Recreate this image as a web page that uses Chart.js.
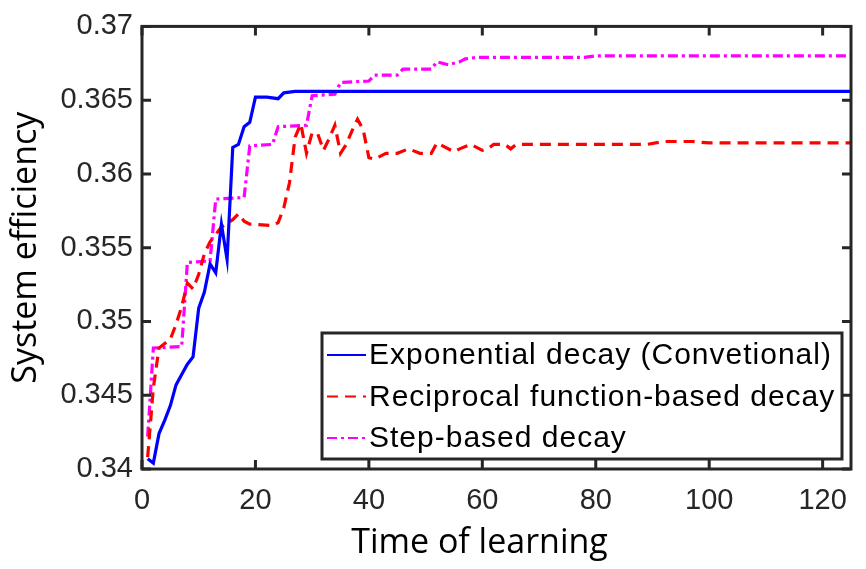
<!DOCTYPE html>
<html>
<head>
<meta charset="utf-8">
<script src="https://cdn.jsdelivr.net/npm/chart.js@4.4.1/dist/chart.umd.min.js"></script>
<style>
  html, body { margin: 0; padding: 0; background: #fff; }
  #wrap { width: 866px; height: 569px; }
</style>
</head>
<body>
<div id="wrap"><canvas id="myChart" width="866" height="569"></canvas></div>
<script>
// values
const expT = [1, 2, 3, 4, 5, 6, 7, 8, 9, 10, 11, 12, 13, 14, 15, 16, 17, 18, 19, 20, 22, 24, 25, 27, 125];
const expV = [0.3407, 0.3404, 0.3424, 0.3433, 0.3443, 0.3457, 0.3464, 0.3471, 0.3476, 0.3509, 0.3520, 0.3539, 0.3533, 0.3566, 0.3542, 0.3618, 0.3620, 0.3632, 0.3635, 0.3652, 0.3652, 0.3651, 0.3655, 0.3656, 0.3656];

const recT = [1, 2, 3, 4, 5, 6, 7, 8, 9, 10, 11, 12, 13, 14, 16, 17, 18, 19, 23, 24, 25, 26, 27, 28, 29, 30, 31, 32, 33, 34, 35, 36, 37, 38, 39, 40, 41, 43, 45, 47, 49, 51, 52, 53, 55, 56, 58, 60, 61, 62, 64, 65, 66, 80, 89, 92, 97, 100, 125];
const recV = [0.3408, 0.3455, 0.3482, 0.3485, 0.3488, 0.3498, 0.3510, 0.3526, 0.3522, 0.3532, 0.3546, 0.3554, 0.3559, 0.3564, 0.3569, 0.3573, 0.3568, 0.3566, 0.3565, 0.3567, 0.3577, 0.3594, 0.3625, 0.3634, 0.3614, 0.3628, 0.3627, 0.3616, 0.3624, 0.3633, 0.3614, 0.3620, 0.3629, 0.3637, 0.3630, 0.3611, 0.3610, 0.3614, 0.3614, 0.3617, 0.3614, 0.3614, 0.3621, 0.3619, 0.3615, 0.3617, 0.3620, 0.3616, 0.3617, 0.3620, 0.3620, 0.3617, 0.3620, 0.3620, 0.3620, 0.3622, 0.3622, 0.3621, 0.3621];

const stepT = [1, 2, 7, 8, 12, 13, 18, 19, 23, 24, 29, 30, 34, 35, 40, 41, 45, 46, 51, 52, 54, 56, 57, 59, 78, 80, 125];
const stepV = [0.3422, 0.3482, 0.3483, 0.3540, 0.3541, 0.3583, 0.3584, 0.3619, 0.3620, 0.3632, 0.3633, 0.3653, 0.3654, 0.3662, 0.3663, 0.3667, 0.3667, 0.3671, 0.3671, 0.3676, 0.3674, 0.3676, 0.3678, 0.3679, 0.3679, 0.3680, 0.3680];

const seriesNames = ["Exponential decay (Convetional)", "Reciprocal function-based decay", "Step-based decay"];
const xTicks = [0, 20, 40, 60, 80, 100, 120];
const yTicks = [0.34, 0.345, 0.35, 0.355, 0.36, 0.365, 0.37];

const AXIS = "#262626";
const toPoints = (ts, vs) => ts.map((t, i) => ({ x: t, y: vs[i] }));

// MATLAB style box with inward ticks, plus the legend inside the axes
const frame = {
  id: "frame",
  afterDatasetsDraw(chart) {
    const { ctx, chartArea: a, scales: { x, y } } = chart;
    ctx.save();
    ctx.strokeStyle = AXIS;
    ctx.lineWidth = 3;
    ctx.beginPath();
    xTicks.forEach((v) => {
      const px = x.getPixelForValue(v);
      ctx.moveTo(px, a.bottom); ctx.lineTo(px, a.bottom - 9);
      ctx.moveTo(px, a.top); ctx.lineTo(px, a.top + 9);
    });
    yTicks.forEach((v) => {
      const py = y.getPixelForValue(v);
      ctx.moveTo(a.left, py); ctx.lineTo(a.left + 9, py);
      ctx.moveTo(a.right, py); ctx.lineTo(a.right - 9, py);
    });
    ctx.stroke();
    ctx.strokeRect(a.left, a.top, a.right - a.left, a.bottom - a.top);
    ctx.restore();
  },
  afterDraw(chart) {
    const { ctx } = chart;
    const box = { l: 322, t: 333, r: 842, b: 459 };
    ctx.save();
    ctx.fillStyle = "#fff";
    ctx.fillRect(box.l, box.t, box.r - box.l, box.b - box.t);
    ctx.strokeStyle = AXIS;
    ctx.lineWidth = 3;
    ctx.strokeRect(box.l, box.t, box.r - box.l, box.b - box.t);
    chart.data.datasets.forEach((ds, i) => {
      const yy = 355 + i * 41.5;
      ctx.strokeStyle = ds.borderColor;
      ctx.lineWidth = 2.2;
      ctx.setLineDash(ds.borderDash || []);
      ctx.beginPath();
      ctx.moveTo(327, yy); ctx.lineTo(366, yy);
      ctx.stroke();
      ctx.setLineDash([]);
      ctx.fillStyle = "#000";
      ctx.font = "30px 'Liberation Sans'";
      ctx.letterSpacing = "1px";
      ctx.textBaseline = "middle";
      ctx.fillText(ds.label, 369, yy + 1);
    });
    ctx.restore();
  }
};

const ctx = document.getElementById("myChart").getContext("2d");
new Chart(ctx, {
  type: "line",
  data: {
    datasets: [
      { label: seriesNames[0], data: toPoints(expT, expV), borderColor: "#0000ff", borderWidth: 3.2 },
      { label: seriesNames[1], data: toPoints(recT, recV), borderColor: "#ff0000", borderWidth: 3.2, borderDash: [11, 7] },
      { label: seriesNames[2], data: toPoints(stepT, stepV), borderColor: "#ff00ff", borderWidth: 3.2, borderDash: [10, 4, 3, 4] },
    ],
  },
  options: {
    responsive: false,
    animation: false,
    events: [],
    elements: { point: { radius: 0 }, line: { tension: 0, fill: false } },
    layout: { padding: { top: 22, right: 15, left: 0, bottom: 0 } },
    plugins: { legend: { display: false }, tooltip: { enabled: false } },
    scales: {
      x: {
        type: "linear",
        min: 0,
        max: 125,
        grid: { display: false, drawTicks: false, tickLength: 0 },
        border: { display: false },
        afterBuildTicks: (s) => { s.ticks = xTicks.map((v) => ({ value: v })); },
        afterFit: (s) => { s.height = 100; },
        ticks: { color: AXIS, padding: 15, font: { family: "'Liberation Sans'", size: 29 }, maxRotation: 0 },
        title: { display: true, text: "Time of learning\u2003", color: "#000", font: { family: "'Open Sans'", size: 34 }, padding: { top: 0, bottom: 5 } },
      },
      y: {
        min: 0.34,
        max: 0.37,
        grid: { display: false, drawTicks: false, tickLength: 0 },
        border: { display: false },
        afterBuildTicks: (s) => { s.ticks = yTicks.map((v) => ({ value: v })); },
        afterFit: (s) => { s.width = 142; },
        ticks: { color: AXIS, padding: 9, font: { family: "'Liberation Sans'", size: 29 }, callback: (v) => String(+v.toFixed(3)) },
        title: { display: true, text: "System efficiency", color: "#000", font: { family: "'Open Sans'", size: 34 }, padding: { top: 6, bottom: 0 } },
      },
    },
  },
  plugins: [frame],
});
</script>
</body>
</html>
